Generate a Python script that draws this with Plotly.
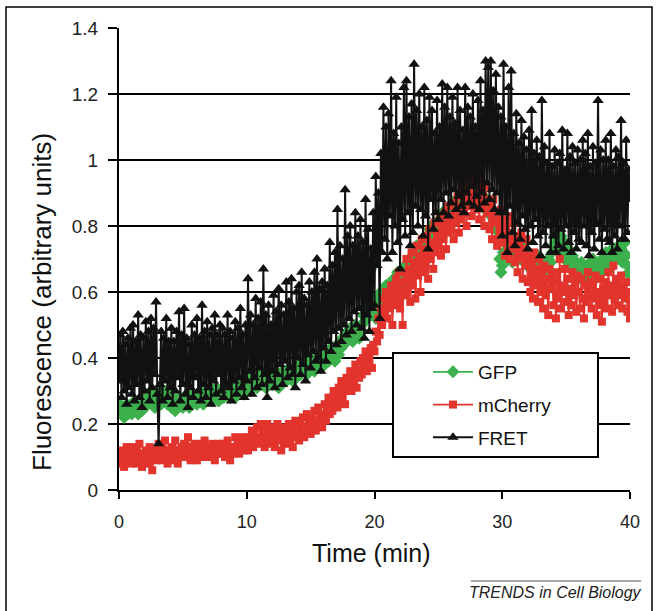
import plotly.graph_objects as go

# ---- data ----
TIME_STEP = 0.1  # minutes between samples
gfp = [
    0.24, 0.26, 0.23, 0.25, 0.22, 0.24, 0.26, 0.23, 0.25, 0.24,
    0.23, 0.25, 0.27, 0.24, 0.26, 0.23, 0.25, 0.27, 0.24, 0.26,
    0.25, 0.28, 0.26, 0.29, 0.27, 0.30, 0.26, 0.28, 0.25, 0.29,
    0.27, 0.30, 0.28, 0.26, 0.29, 0.27, 0.30, 0.28, 0.26, 0.29,
    0.27, 0.25, 0.28, 0.26, 0.24, 0.27, 0.25, 0.28, 0.26, 0.27,
    0.25, 0.28, 0.26, 0.29, 0.27, 0.25, 0.28, 0.26, 0.29, 0.27,
    0.28, 0.26, 0.29, 0.27, 0.30, 0.28, 0.26, 0.29, 0.27, 0.30,
    0.28, 0.31, 0.29, 0.27, 0.30, 0.28, 0.31, 0.29, 0.27, 0.30,
    0.29, 0.31, 0.28, 0.30, 0.32, 0.29, 0.31, 0.28, 0.30, 0.32,
    0.30, 0.28, 0.31, 0.29, 0.32, 0.30, 0.33, 0.31, 0.29, 0.32,
    0.31, 0.34, 0.32, 0.30, 0.33, 0.35, 0.32, 0.34, 0.31, 0.33,
    0.35, 0.32, 0.34, 0.36, 0.33, 0.31, 0.34, 0.36, 0.33, 0.35,
    0.32, 0.35, 0.33, 0.36, 0.34, 0.31, 0.35, 0.33, 0.36, 0.34,
    0.36, 0.33, 0.35, 0.37, 0.34, 0.36, 0.33, 0.35, 0.37, 0.34,
    0.36, 0.38, 0.35, 0.37, 0.39, 0.36, 0.38, 0.35, 0.37, 0.39,
    0.37, 0.40, 0.38, 0.36, 0.39, 0.41, 0.38, 0.40, 0.37, 0.39,
    0.41, 0.38, 0.40, 0.42, 0.39, 0.41, 0.43, 0.40, 0.42, 0.39,
    0.42, 0.44, 0.41, 0.45, 0.43, 0.46, 0.44, 0.47, 0.45, 0.48,
    0.46, 0.49, 0.47, 0.45, 0.48, 0.50, 0.47, 0.49, 0.46, 0.48,
    0.50, 0.53, 0.51, 0.55, 0.52, 0.57, 0.54, 0.67, 0.56, 0.58,
    0.55, 0.52, 0.56, 0.58, 0.54, 0.60, 0.57, 0.55, 0.59, 0.62,
    0.58, 0.61, 0.57, 0.63, 0.60, 0.64, 0.59, 0.62, 0.66, 0.61,
    0.64, 0.60, 0.66, 0.63, 0.68, 0.65, 0.62, 0.70, 0.66, 0.69,
    0.67, 0.72, 0.68, 0.74, 0.70, 0.66, 0.73, 0.71, 0.75, 0.72,
    0.74, 0.77, 0.73, 0.79, 0.75, 0.78, 0.76, 0.81, 0.77, 0.80,
    0.78, 0.82, 0.79, 0.84, 0.80, 0.83, 0.81, 0.85, 0.82, 0.86,
    0.83, 0.87, 0.84, 0.86, 0.88, 0.85, 0.89, 0.86, 0.88, 0.90,
    0.87, 0.89, 0.91, 0.88, 0.90, 0.92, 0.89, 0.91, 0.88, 0.90,
    0.89, 0.92, 0.88, 0.90, 0.86, 0.89, 0.87, 0.85, 0.88, 0.84,
    0.86, 0.83, 0.85, 0.81, 0.84, 0.79, 0.82, 0.78, 0.70, 0.66,
    0.68, 0.72, 0.75, 0.71, 0.74, 0.70, 0.76, 0.73, 0.69, 0.74,
    0.72, 0.75, 0.71, 0.73, 0.70, 0.74, 0.72, 0.69, 0.73, 0.70,
    0.68, 0.71, 0.67, 0.70, 0.66, 0.69, 0.65, 0.68, 0.71, 0.67,
    0.66, 0.69, 0.65, 0.68, 0.64, 0.67, 0.70, 0.66, 0.69, 0.72,
    0.74, 0.77, 0.75, 0.78, 0.76, 0.73, 0.77, 0.74, 0.71, 0.75,
    0.72, 0.69, 0.73, 0.70, 0.67, 0.71, 0.68, 0.65, 0.69, 0.66,
    0.68, 0.65, 0.69, 0.66, 0.63, 0.67, 0.64, 0.68, 0.65, 0.69,
    0.66, 0.70, 0.67, 0.64, 0.68, 0.65, 0.69, 0.66, 0.70, 0.67,
    0.69, 0.72, 0.68, 0.71, 0.67, 0.70, 0.73, 0.69, 0.72, 0.70,
    0.71, 0.74, 0.70, 0.73, 0.69, 0.72, 0.75, 0.71, 0.68, 0.66,
    0.65,
]
mcherry = [
    0.09, 0.12, 0.08, 0.11, 0.07, 0.10, 0.13, 0.09, 0.11, 0.08,
    0.10, 0.13, 0.09, 0.12, 0.08, 0.11, 0.14, 0.10, 0.07, 0.11,
    0.09, 0.12, 0.08, 0.11, 0.13, 0.09, 0.06, 0.10, 0.12, 0.09,
    0.11, 0.14, 0.10, 0.13, 0.09, 0.12, 0.15, 0.11, 0.08, 0.12,
    0.10, 0.13, 0.09, 0.12, 0.15, 0.11, 0.08, 0.12, 0.10, 0.13,
    0.11, 0.14, 0.10, 0.13, 0.16, 0.12, 0.09, 0.13, 0.11, 0.14,
    0.12, 0.09, 0.13, 0.11, 0.14, 0.10, 0.12, 0.15, 0.11, 0.13,
    0.10, 0.13, 0.11, 0.14, 0.12, 0.09, 0.13, 0.11, 0.14, 0.12,
    0.11, 0.14, 0.12, 0.10, 0.13, 0.15, 0.12, 0.09, 0.13, 0.11,
    0.13, 0.16, 0.12, 0.14, 0.11, 0.15, 0.13, 0.16, 0.12, 0.14,
    0.15, 0.12, 0.16, 0.14, 0.18, 0.13, 0.17, 0.15, 0.19, 0.14,
    0.16, 0.20, 0.15, 0.18, 0.13, 0.17, 0.20, 0.16, 0.14, 0.18,
    0.15, 0.19, 0.13, 0.17, 0.20, 0.15, 0.18, 0.12, 0.16, 0.19,
    0.14, 0.18, 0.16, 0.20, 0.15, 0.19, 0.13, 0.17, 0.21, 0.16,
    0.18, 0.15, 0.20, 0.17, 0.22, 0.16, 0.19, 0.23, 0.18, 0.21,
    0.17, 0.22, 0.19, 0.24, 0.18, 0.21, 0.25, 0.20, 0.23, 0.19,
    0.22, 0.26, 0.21, 0.25, 0.28, 0.23, 0.27, 0.24, 0.30, 0.26,
    0.29, 0.25, 0.31, 0.27, 0.33, 0.28, 0.32, 0.26, 0.34, 0.30,
    0.32, 0.36, 0.30, 0.35, 0.33, 0.38, 0.31, 0.36, 0.34, 0.39,
    0.35, 0.40, 0.37, 0.42, 0.36, 0.41, 0.38, 0.43, 0.37, 0.44,
    0.42, 0.48, 0.45, 0.52, 0.47, 0.55, 0.50, 0.58, 0.53, 0.60,
    0.52, 0.59, 0.55, 0.62, 0.50, 0.60, 0.56, 0.64, 0.58, 0.66,
    0.55, 0.63, 0.50, 0.66, 0.59, 0.70, 0.61, 0.67, 0.57, 0.72,
    0.62, 0.69, 0.58, 0.74, 0.65, 0.71, 0.60, 0.76, 0.66, 0.73,
    0.68, 0.77, 0.64, 0.79, 0.70, 0.75, 0.67, 0.81, 0.72, 0.78,
    0.74, 0.82, 0.71, 0.80, 0.76, 0.84, 0.73, 0.86, 0.78, 0.83,
    0.79, 0.87, 0.76, 0.84, 0.81, 0.89, 0.78, 0.86, 0.82, 0.91,
    0.84, 0.92, 0.80, 0.95, 0.86, 0.90, 0.83, 0.97, 0.87, 0.93,
    0.85, 0.91, 0.82, 0.94, 0.86, 0.89, 0.80, 0.92, 0.84, 0.88,
    0.79, 0.86, 0.76, 0.88, 0.81, 0.84, 0.74, 0.83, 0.78, 0.85,
    0.75, 0.82, 0.71, 0.80, 0.76, 0.83, 0.70, 0.78, 0.73, 0.81,
    0.69, 0.77, 0.66, 0.75, 0.70, 0.78, 0.64, 0.73, 0.68, 0.76,
    0.63, 0.71, 0.60, 0.69, 0.58, 0.72, 0.62, 0.67, 0.57, 0.70,
    0.60, 0.66, 0.55, 0.68, 0.59, 0.64, 0.53, 0.67, 0.61, 0.65,
    0.56, 0.63, 0.52, 0.66, 0.58, 0.70, 0.55, 0.62, 0.60, 0.67,
    0.57, 0.64, 0.53, 0.61, 0.56, 0.66, 0.59, 0.63, 0.54, 0.65,
    0.60, 0.55, 0.64, 0.58, 0.52, 0.62, 0.57, 0.66, 0.59, 0.63,
    0.55, 0.62, 0.58, 0.65, 0.53, 0.60, 0.56, 0.64, 0.51, 0.61,
    0.57, 0.63, 0.55, 0.66, 0.59, 0.62, 0.54, 0.68, 0.58, 0.64,
    0.56, 0.62, 0.59, 0.65, 0.55, 0.61, 0.58, 0.63, 0.54, 0.60,
    0.52,
]
fret = [
    0.33, 0.47, 0.28, 0.48, 0.30, 0.44, 0.26, 0.46, 0.31, 0.49,
    0.29, 0.50, 0.27, 0.45, 0.32, 0.53, 0.28, 0.47, 0.25, 0.46,
    0.30, 0.51, 0.33, 0.48, 0.27, 0.52, 0.31, 0.49, 0.35, 0.57,
    0.29, 0.14, 0.32, 0.48, 0.27, 0.46, 0.33, 0.52, 0.28, 0.45,
    0.31, 0.49, 0.26, 0.45, 0.30, 0.48, 0.34, 0.54, 0.27, 0.47,
    0.32, 0.55, 0.29, 0.46, 0.25, 0.44, 0.31, 0.50, 0.28, 0.47,
    0.34, 0.52, 0.30, 0.46, 0.27, 0.56, 0.32, 0.48, 0.28, 0.51,
    0.31, 0.47, 0.26, 0.49, 0.33, 0.53, 0.29, 0.47, 0.35, 0.50,
    0.30, 0.49, 0.28, 0.47, 0.32, 0.53, 0.31, 0.48, 0.27, 0.46,
    0.33, 0.51, 0.29, 0.49, 0.34, 0.55, 0.31, 0.47, 0.28, 0.50,
    0.33, 0.64, 0.36, 0.53, 0.29, 0.50, 0.34, 0.58, 0.31, 0.52,
    0.37, 0.57, 0.32, 0.67, 0.35, 0.53, 0.28, 0.56, 0.33, 0.50,
    0.36, 0.59, 0.31, 0.54, 0.35, 0.61, 0.38, 0.56, 0.32, 0.53,
    0.39, 0.63, 0.34, 0.57, 0.37, 0.64, 0.35, 0.55, 0.31, 0.60,
    0.40, 0.62, 0.35, 0.66, 0.38, 0.58, 0.33, 0.56, 0.41, 0.63,
    0.37, 0.60, 0.42, 0.66, 0.39, 0.70, 0.40, 0.61, 0.36, 0.63,
    0.43, 0.67, 0.39, 0.62, 0.45, 0.75, 0.42, 0.68, 0.48, 0.72,
    0.44, 0.85, 0.49, 0.74, 0.45, 0.70, 0.50, 0.91, 0.47, 0.77,
    0.52, 0.80, 0.48, 0.74, 0.54, 0.84, 0.50, 0.77, 0.55, 0.82,
    0.49, 0.75, 0.46, 0.88, 0.53, 0.79, 0.48, 0.73, 0.55, 0.84,
    0.56, 0.95, 0.68, 0.90, 0.52, 1.02, 0.72, 1.16, 0.76, 1.10,
    0.70, 1.14, 0.83, 1.24, 0.72, 1.08, 0.80, 1.19, 0.75, 1.05,
    0.67, 1.10, 0.82, 1.22, 0.77, 1.24, 0.84, 1.13, 0.74, 1.17,
    0.78, 1.29, 0.86, 1.15, 0.80, 1.20, 0.85, 1.10, 0.77, 1.22,
    0.83, 1.12, 0.73, 1.19, 0.88, 1.15, 0.79, 1.08, 0.84, 1.18,
    0.82, 1.10, 0.88, 1.23, 0.84, 1.16, 0.90, 1.22, 0.83, 1.13,
    0.87, 1.19, 0.91, 1.11, 0.85, 1.22, 0.89, 1.15, 0.86, 1.09,
    0.84, 1.22, 0.90, 1.16, 0.87, 1.13, 0.92, 1.20, 0.86, 1.10,
    0.89, 1.18, 0.85, 1.24, 0.90, 1.15, 0.87, 1.30, 0.93, 1.28,
    0.88, 1.30, 0.91, 1.21, 0.85, 1.26, 0.90, 1.16, 0.84, 1.13,
    0.77, 1.29, 0.84, 1.10, 0.72, 1.22, 0.86, 1.27, 0.78, 1.08,
    0.74, 1.14, 0.81, 1.05, 0.76, 1.12, 0.83, 1.07, 0.79, 1.03,
    0.73, 1.09, 0.80, 1.15, 0.75, 1.02, 0.82, 1.06, 0.77, 1.01,
    0.71, 1.18, 0.78, 1.04, 0.74, 0.99, 0.80, 1.08, 0.72, 0.98,
    0.77, 1.03, 0.72, 0.99, 0.74, 1.02, 0.79, 1.09, 0.73, 0.97,
    0.80, 1.08, 0.75, 1.01, 0.72, 1.04, 0.78, 0.99, 0.73, 1.03,
    0.76, 1.00, 0.75, 1.06, 0.80, 1.02, 0.74, 1.08, 0.71, 0.98,
    0.78, 1.04, 0.73, 0.99, 0.81, 1.18, 0.76, 1.03, 0.72, 1.00,
    0.79, 1.06, 0.76, 1.00, 0.75, 1.08, 0.72, 0.98, 0.77, 1.03,
    0.73, 1.01, 0.80, 1.12, 0.76, 0.99, 0.76, 1.06, 0.78, 0.97,
    0.88,
]
time = [round(i * TIME_STEP, 2) for i in range(len(fret))]

x_ticks = [0, 10, 20, 30, 40]
y_ticks = [0, 0.2, 0.4, 0.6, 0.8, 1, 1.2, 1.4]
y_tick_labels = ["0", "0.2", "0.4", "0.6", "0.8", "1", "1.2", "1.4"]

GREEN = "#3cb04c"
RED = "#e2342c"
BLACK = "#111111"
FONT = "Arial, 'Liberation Sans', sans-serif"

W, H = 659, 611
L, R, T, B = 119, 29, 28, 121
PW, PH = W - L - R, H - T - B


def px(xp):
    return (xp - L) / PW


def py(yp):
    return (H - B - yp) / PH


fig = go.Figure()
fig.add_trace(go.Scatter(
    x=time, y=gfp, name="GFP", mode="lines+markers", legendgroup="g",
    line=dict(color=GREEN, width=1.8),
    marker=dict(symbol="diamond", size=10, color=GREEN),
))
fig.add_trace(go.Scatter(
    x=time, y=mcherry, name="mCherry", mode="lines+markers", legendgroup="m",
    line=dict(color=RED, width=1.8),
    marker=dict(symbol="square", size=8, color=RED),
))
fig.add_trace(go.Scatter(
    x=time, y=fret, name="FRET", mode="lines+markers", legendgroup="f",
    line=dict(color=BLACK, width=2),
    marker=dict(symbol="triangle-up", size=10, color=BLACK),
))

shapes = [
    # outer frame
    dict(type="rect", xref="paper", yref="paper",
         x0=px(6), x1=px(652), y0=py(620), y1=py(7),
         line=dict(color="black", width=1.5), layer="below"),
    # legend box
    dict(type="rect", xref="paper", yref="paper",
         x0=px(393), x1=px(598), y0=py(457), y1=py(353),
         line=dict(color="black", width=2), fillcolor="white", layer="above"),
    # rule above the source label
    dict(type="line", xref="paper", yref="paper",
         x0=px(471), x1=px(641), y0=py(581), y1=py(581),
         line=dict(color="#888888", width=1.5)),
]

annotations = [
    dict(text="Fluorescence (arbitrary units)", textangle=-90,
         xref="paper", yref="paper", x=px(42), y=py(302),
         xanchor="center", yanchor="middle",
         showarrow=False, font=dict(family=FONT, size=26, color="#111")),
    dict(text="Time (min)", xref="paper", yref="paper",
         x=px(371), y=py(553), xanchor="center", yanchor="middle",
         showarrow=False, font=dict(family=FONT, size=25, color="#111")),
    dict(text="<i>TRENDS in Cell Biology</i>", xref="paper", yref="paper",
         x=px(644), y=py(592), xanchor="right", yanchor="middle",
         showarrow=False, font=dict(family=FONT, size=16, color="#222")),
]

fig.update_layout(
    width=W, height=H,
    margin=dict(l=L, r=R, t=T, b=B),
    paper_bgcolor="white", plot_bgcolor="white",
    font=dict(family=FONT, color="#222"),
    showlegend=True,
    legend=dict(
        x=px(428), y=py(353), xanchor="left", yanchor="top",
        bgcolor="rgba(0,0,0,0)", borderwidth=0,
        font=dict(family=FONT, size=19, color="#111"),
        tracegroupgap=5, itemwidth=40,
    ),
    shapes=shapes,
    annotations=annotations,
    xaxis=dict(
        range=[0, 40], tickvals=x_ticks, ticks="outside", ticklen=7,
        tickwidth=2, tickcolor="black", showline=True, linecolor="black",
        linewidth=2, showgrid=False, zeroline=False,
        tickfont=dict(family=FONT, size=18, color="#222"),
        ticklabelstandoff=7,
    ),
    yaxis=dict(
        range=[0, 1.4], tickvals=y_ticks, ticktext=y_tick_labels,
        ticks="outside", ticklen=9, tickwidth=2, tickcolor="black",
        showline=True, linecolor="black", linewidth=2,
        showgrid=True, gridcolor="black", gridwidth=2, zeroline=False,
        tickfont=dict(family=FONT, size=19, color="#222"),
        ticklabelstandoff=6,
    ),
)

fig.write_html("out.html", config={"displayModeBar": False},
               post_script="document.body.style.margin='0px';")
